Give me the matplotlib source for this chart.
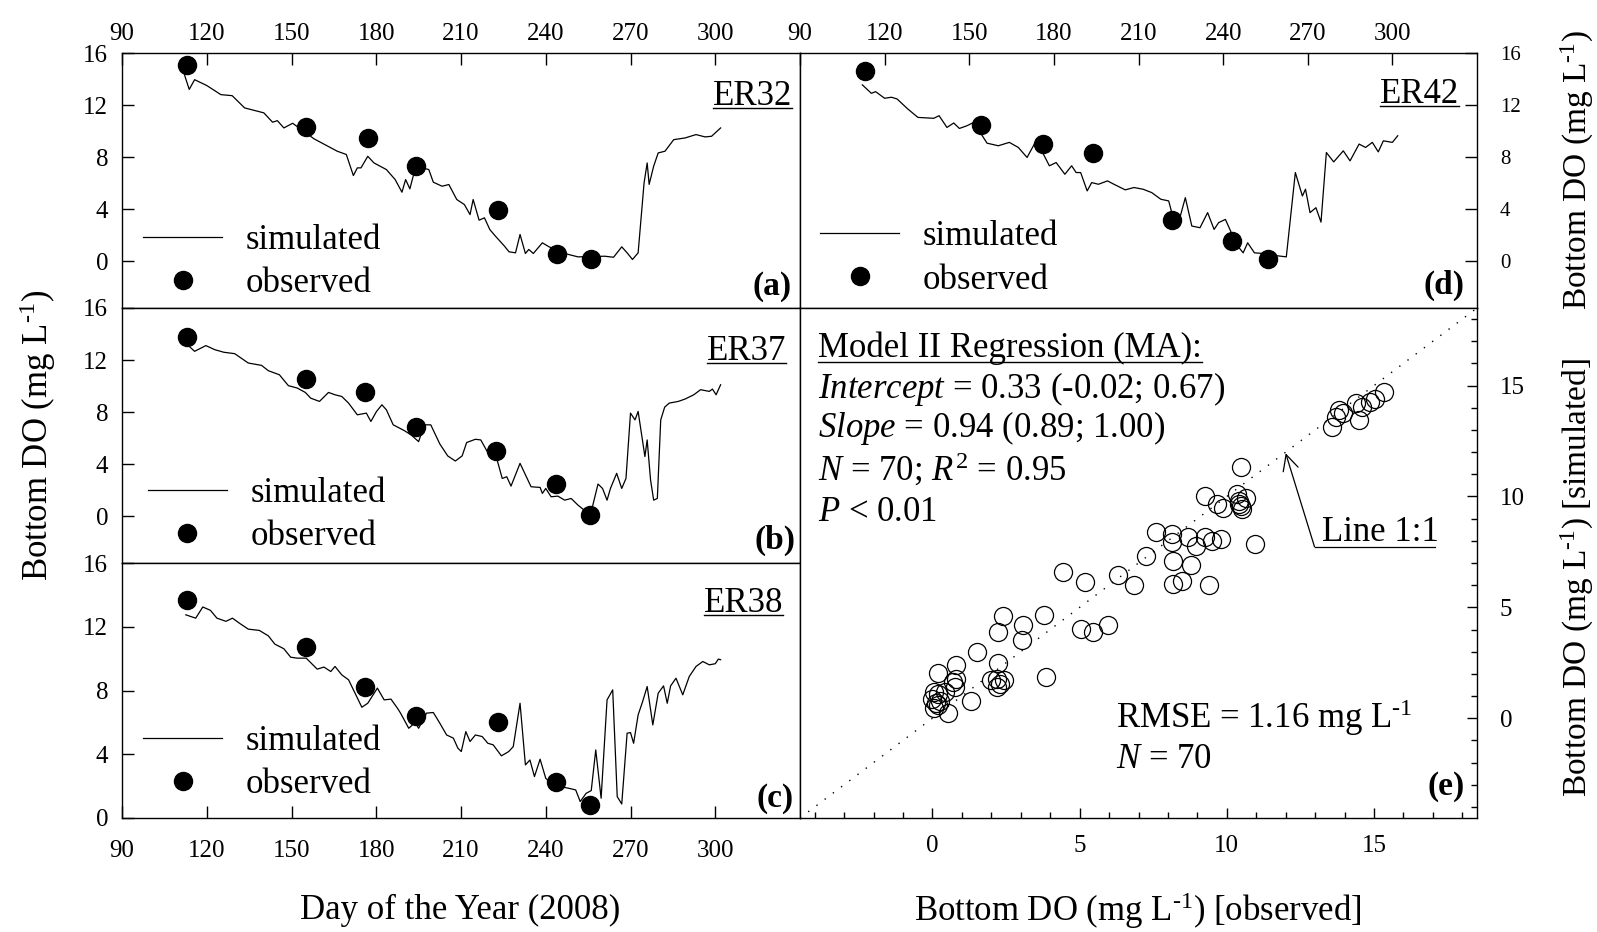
import numpy as np
import matplotlib
matplotlib.use("Agg")
from matplotlib import pyplot as plt
from matplotlib.lines import Line2D

plt.rcParams['font.family'] = ['Liberation Serif', 'DejaVu Serif']
plt.rcParams['mathtext.fontset'] = 'custom'
plt.rcParams['mathtext.rm'] = 'Liberation Serif'
plt.rcParams['mathtext.it'] = 'Liberation Serif:italic'
plt.rcParams['mathtext.bf'] = 'Liberation Serif:bold'
plt.rcParams['axes.linewidth'] = 1.0

# ---- data ----
day_ticks = [90, 120, 150, 180, 210, 240, 270, 300]
do_ticks = [0, 4, 8, 12, 16]
scatter_ticks = [0, 5, 10, 15]

# ER32 (a)
er32_sim_day = [112, 113.8, 115.7, 120, 125, 129, 133.4, 140.2, 143.3, 145, 147.3, 150.4, 158, 166.2,
                169.4, 171.9, 173.3, 174.6, 177, 179.2, 183.6, 186.7, 189.1, 190.4, 191.9, 194, 198.6,
                200.2, 203.3, 205.7, 208.5, 211.2, 213.2, 214.3, 216.4, 218.3, 220.2, 222.2, 225.4, 227,
                229.3, 230.9, 232.8, 234, 235.6, 238.8, 241.2, 246.7, 251.4, 260.9, 264, 266.9, 268.8,
                270.7, 272.7, 274.8, 275.9, 276.6, 278.2, 279.8, 282.2, 285.3, 289.3, 293.2, 296.4,
                298.7, 301.9]
er32_sim_do = [14.4, 13.2, 13.95, 13.5, 12.8, 12.72, 11.78, 11.4, 10.68, 10.8, 10.24, 10.6, 9.4, 8.45,
               8.2, 6.58, 7.17, 7.17, 8.06, 7.55, 7.04, 6.27, 5.3, 6.27, 5.56, 7.3, 7.04, 6.07, 5.76,
               5.89, 4.74, 4.35, 3.58, 4.74, 3.15, 3.33, 2.43, 1.92, 1.15, 0.72, 0.64, 2.05, 0.59, 0.9,
               0.59, 1.41, 1.1, 0.59, 0.33, 0.38, 0.3, 1.1, 0.64, 0.13, 0.64, 6.0, 7.55, 5.9, 7.3, 8.32,
               8.45, 9.34, 9.47, 9.73, 9.55, 9.6, 10.24]
er32_obs_day = [113, 155, 177, 194, 223, 244, 256]
er32_obs_do = [15.05, 10.3, 9.5, 7.3, 3.9, 0.55, 0.15]

# ER37 (b)
er37_sim_day = [113.1, 115.7, 119.7, 122.8, 126, 129.9, 134.7, 139.4, 141.8, 145.7, 148.9, 152, 154.9,
                156.8, 159.9, 163.1, 165.4, 167.8, 170.2, 173.3, 176.5, 178.1, 180.1, 182, 183.6, 186,
                189.9, 192.3, 195, 197, 199.3, 202.5, 205.3, 208, 210.4, 212, 215.1, 217, 219.5, 222.2,
                224.6, 226.2, 227.7, 230.9, 234.8, 238, 238.8, 240, 241.9, 244.3, 246.7, 249, 251.4,
                255.8, 258.5, 260.1, 261.7, 262.9, 265.1, 266.9, 268.4, 270, 271.6, 272.7, 275.1, 275.9,
                277.1, 278.2, 279.5, 280.7, 282.1, 283.7, 286.9, 289.3, 292.4, 294.8, 297.9, 299, 300.3,
                301.9]
er37_sim_do = [13.19, 12.67, 13.11, 12.8, 12.6, 12.49, 11.77, 11.59, 11.18, 10.87, 10.03, 9.85, 9.51,
               9.07, 8.82, 9.51, 9.33, 9.2, 8.69, 7.79, 7.92, 7.28, 8.05, 8.56, 8.17, 7.02, 6.58, 6.25,
               5.73, 7.02, 7.02, 5.55, 4.63, 4.24, 4.63, 5.66, 5.91, 5.86, 4.88, 4.78, 2.9, 3.03, 2.31,
               4.06, 2.26, 2.21, 1.75, 2.13, 1.49, 1.54, 1.23, 1.36, 0.85, 0.08, 2.47, 2.13, 1.23, 2.13,
               3.29, 2.13, 2.9, 7.92, 7.4, 8.05, 4.58, 5.86, 2.78, 1.23, 1.36, 7.4, 8.38, 8.69, 8.82,
               9.0, 9.33, 9.72, 9.59, 9.77, 9.33, 10.1]
er37_obs_day = [113, 155, 176, 194, 222.5, 243.7, 255.8]
er37_obs_do = [13.78, 10.54, 9.51, 6.89, 5.01, 2.44, 0.08]

# ER38 (c)
er38_sim_day = [112.6, 114.2, 116.1, 118.6, 121.3, 123.6, 126.8, 129.1, 131.5, 134.7, 138.6, 141.8,
                144.1, 147.3, 149.7, 152, 155.2, 159.1, 161.5, 163.9, 165.4, 167.8, 170.2, 172.5, 174.9,
                177, 178.9, 180.4, 182.8, 185.2, 187.5, 188.6, 191.5, 193.8, 195, 197.8, 200.2, 202.5,
                204.9, 207.3, 208.9, 210.1, 211.7, 213.2, 215.1, 217.5, 219.5, 221.4, 224.3, 226.9,
                228.5, 230.9, 232.8, 234.4, 236, 238, 240, 241.9, 245.1, 248.3, 250.6, 252.2, 254.3,
                256.1, 257.7, 259.6, 261.7, 263.7, 265.3, 266.9, 268.8, 270, 271.1, 272.7, 274.3, 275.9,
                277.9, 279.8, 281.7, 283, 284.2, 286.1, 288.5, 290.8, 293.2, 295.6, 297.9, 300, 301.1,
                301.9]
er38_sim_do = [12.75, 12.65, 12.54, 13.24, 13.03, 12.54, 12.34, 12.54, 12.23, 11.85, 11.77, 11.43,
               10.91, 10.62, 10.09, 10.03, 10.03, 9.34, 9.47, 9.19, 9.51, 8.98, 8.67, 7.83, 6.95, 7.2,
               7.73, 8.15, 7.41, 7.46, 6.89, 6.58, 5.63, 5.99, 5.63, 6.58, 6.62, 5.95, 5.21, 5.01, 4.38,
               4.17, 5.42, 4.8, 5.21, 5.11, 4.69, 4.59, 3.9, 4.17, 4.48, 7.2, 3.33, 3.64, 2.6, 3.69,
               2.49, 2.18, 1.97, 1.86, 1.76, 1.03, 1.55, 1.72, 4.27, 1.24, 7.41, 8.04, 1.34, 0.88, 5.32,
               5.36, 4.69, 6.47, 7.31, 8.25, 5.84, 7.83, 8.29, 7.2, 8.29, 8.77, 7.73, 8.88, 9.51, 9.82,
               9.61, 9.68, 9.97, 9.93]
er38_obs_day = [113, 155, 176, 194, 223, 243.7, 255.8]
er38_obs_do = [13.65, 10.7, 8.25, 6.37, 6.05, 2.28, 0.82]

# ER42 (d)
er42_sim_day = [112.1, 115.3, 116.8, 120, 122.4, 124.4, 128.2, 131.8, 137.4, 139.3, 142.1, 144.5,
                146.5, 149.2, 151.6, 156.3, 160.3, 164.2, 167.4, 170.5, 173.4, 176, 178.4, 180.8, 183.9,
                186.3, 187.9, 189.5, 191.8, 193.4, 195.8, 199, 201.3, 205.3, 208.4, 211.6, 214.7, 217.9,
                220.7, 221.8, 224.5, 226.6, 228.9, 231.8, 234.5, 236.8, 238.4, 240.8, 242.4, 244.7,
                247.1, 248.7, 251.1, 254.2, 258.2, 262.4, 265.6, 268.1, 269.2, 270.8, 272.9, 274.7,
                276.6, 279.2, 282.6, 285, 288.2, 290.5, 292.9, 295, 296.8, 300, 301.9]
er42_sim_do = [13.55, 12.9, 13.03, 12.52, 12.6, 12.47, 11.7, 11.05, 10.98, 11.18, 10.28, 10.62, 10.2,
               10.41, 10.67, 9.07, 8.87, 9.13, 8.74, 7.97, 9.13, 8.35, 7.33, 7.58, 6.68, 7.33, 6.81,
               6.81, 5.4, 6.04, 5.91, 6.17, 5.91, 5.48, 5.66, 5.53, 5.27, 4.76, 4.63, 3.73, 3.21, 4.88,
               2.7, 2.57, 3.73, 2.44, 2.96, 3.21, 2.44, 1.29, 0.64, 1.41, 0.64, 0.59, 0.44, 0.33, 6.81,
               5.01, 5.53, 3.73, 4.11, 3.0, 8.35, 7.63, 8.48, 7.71, 9.0, 8.74, 9.13, 8.4, 9.25, 9.13,
               9.64]
er42_obs_day = [113, 154, 176, 194, 222, 243, 256]
er42_obs_do = [14.58, 10.46, 9.0, 8.28, 3.14, 1.54, 0.13]

# (e) observed vs simulated, N = 70
obs_e = [13.56, 13.7, 13.94, 14.39, 14.5, 14.85, 15.03, 15.33, 13.8, 14.6,
         10.48, 10.33, 10.64, 10.41, 10.48, 10.5, 9.27, 9.65, 9.88, 10.97, 10.4,
         7.6, 8.14, 8.14, 8.67, 8.94, 9.27, 9.5, 9.8, 7.27, 8.18, 8.79, 8.18, 8.48, 9.39,
         4.45, 5.18, 6.32, 6.85, 5.06, 5.45, 5.98, 3.79, 2.38, 3.06, 2.23, 3.03, 1.52, 3.85,
         2.23, 2.18, 2.0, 2.42, 2.18, 2.3,
         0.79, 0.18, 0.79, 0.71, 0.76, 0.06, 0.18, 0.0, 0.11, 0.26, 0.06, 0.52, 1.32, 0.18, 0.41]
sim_e = [13.14, 13.6, 13.76, 14.23, 13.45, 14.26, 14.39, 14.7, 13.9, 14.05,
         11.35, 10.1, 9.95, 9.64, 9.56, 9.44, 10.03, 9.64, 9.49, 7.85, 9.8,
         8.4, 8.32, 7.93, 8.16, 7.78, 8.16, 8.01, 8.09, 7.31, 7.08, 6.89, 6.07, 6.17, 5.99,
         6.61, 6.14, 6.45, 6.02, 4.04, 3.89, 4.2, 4.67, 4.59, 4.2, 3.89, 3.53, 3.0, 1.87,
         2.49, 1.79, 1.71, 1.71, 1.4, 1.55,
         2.41, 2.02, 1.79, 1.63, 1.4, 1.2, 1.09, 0.86, 0.7, 0.78, 0.47, 0.23, 0.78, 0.58, 1.17]

unit = r'mg L$^{\text{-}1}$'
stats_lines = ['Model II Regression (MA):',
               r'$\mathit{Intercept}$ = 0.33 (-0.02; 0.67)',
               r'$\mathit{Slope}$ = 0.94 (0.89; 1.00)',
               r'$\mathit{N}$ = 70; $\mathit{R}^2$ = 0.95',
               r'$\mathit{P}$ < 0.01']

# ---- layout ----
W, H = 1597., 932.
fig = plt.figure(figsize=(W / 100, H / 100), dpi=100)


def box(x0, y0, x1, y1):
    # pixel edges measured from top-left of the picture
    return [x0 / W, 1 - y1 / H, (x1 - x0) / W, (y1 - y0) / H]


ax_a = fig.add_axes(box(122, 53, 800, 308))
ax_b = fig.add_axes(box(122, 308, 800, 563))
ax_c = fig.add_axes(box(122, 563, 800, 818))
ax_d = fig.add_axes(box(800, 53, 1477, 308))
ax_e = fig.add_axes(box(800, 308, 1477, 818))

underlined = []


def station_panel(ax, sim_day, sim_do, obs_day, obs_do, name, letter, ylim,
                  leg_xy, name_xy, letter_xy):
    ax.plot(sim_day, sim_do, color='black', lw=0.9, label='simulated')
    ax.plot(obs_day, obs_do, 'o', color='black', ms=13, label='observed', zorder=3)
    ax.set_xlim(90, 330)
    ax.set_ylim(*ylim)
    ax.set_xticks(day_ticks)
    ax.set_yticks(do_ticks)
    ax.legend(loc='center left', bbox_to_anchor=leg_xy, frameon=False, fontsize=25,
              handlelength=2.28, handletextpad=0.67, labelspacing=0.29,
              borderpad=0, borderaxespad=0)
    t = ax.text(name_xy[0], name_xy[1], name, transform=ax.transAxes,
                ha='right', va='baseline', fontsize=25)
    underlined.append((t, 3))
    ax.text(letter_xy[0], letter_xy[1], letter, transform=ax.transAxes,
            ha='right', va='center', fontsize=24, fontweight='bold')


station_panel(ax_a, er32_sim_day, er32_sim_do, er32_obs_day, er32_obs_do, 'ER32', '(a)',
              (-3.6, 16), (0.031, 0.179), (0.988, 0.796), (0.988, 0.085))
station_panel(ax_b, er37_sim_day, er37_sim_do, er37_obs_day, er37_obs_do, 'ER37', '(b)',
              (-3.6, 16), (0.038, 0.188), (0.980, 0.796), (0.993, 0.09))
station_panel(ax_c, er38_sim_day, er38_sim_do, er38_obs_day, er38_obs_do, 'ER38', '(c)',
              (0, 16), (0.031, 0.215), (0.975, 0.809), (0.99, 0.078))
station_panel(ax_d, er42_sim_day, er42_sim_do, er42_obs_day, er42_obs_do, 'ER42', '(d)',
              (-3.6, 16), (0.03, 0.194), (0.973, 0.805), (0.982, 0.09))

# ticks for the time-series panels
for ax in (ax_a, ax_b, ax_c):
    ax.tick_params(axis='y', direction='in', left=True, right=False, length=8.5, width=1,
                   labelsize=18, pad=10)
ax_a.tick_params(axis='x', direction='in', bottom=False, top=True, labelbottom=False,
                 labeltop=True, length=8.5, width=1, labelsize=18, pad=5.5)
ax_b.tick_params(axis='x', bottom=False, top=False, labelbottom=False)
ax_c.tick_params(axis='x', direction='in', bottom=True, top=False, length=8.5, width=1,
                 labelsize=18, pad=16)
ax_d.tick_params(axis='x', direction='in', bottom=False, top=True, labelbottom=False,
                 labeltop=True, length=8.5, width=1, labelsize=18, pad=5.5)
ax_d.tick_params(axis='y', direction='in', left=False, right=True, labelleft=False,
                 labelright=True, length=8.5, width=1, labelsize=15, pad=16.5)

# ---- (e) scatter ----
ax_e.plot(obs_e, sim_e, 'o', mfc='none', mec='black', mew=0.9, ms=13)
ax_e.axline((0, 0), slope=1, color='black', lw=1.0, linestyle=(0, (1, 6.4)))
ax_e.set_xlim(-4.5, 18.5)
ax_e.set_ylim(-4.5, 18.5)
ax_e.set_xticks(scatter_ticks)
ax_e.set_yticks(scatter_ticks)
ax_e.set_xticks(np.arange(-4, 19), minor=True)
ax_e.set_yticks(np.arange(-4, 19), minor=True)
ax_e.tick_params(axis='x', which='both', direction='in', bottom=True, top=False, width=1,
                 labelsize=18, pad=12)
ax_e.tick_params(axis='y', which='both', direction='in', left=False, right=True,
                 labelleft=False, labelright=True, width=1, labelsize=18, pad=16.5)
ax_e.tick_params(which='major', length=7)
ax_e.tick_params(which='minor', length=4)

stats_y = [0.904, 0.824, 0.747, 0.661, 0.582]
for i, (line, yy) in enumerate(zip(stats_lines, stats_y)):
    t = ax_e.text(0.027, yy, line, transform=ax_e.transAxes, ha='left', va='baseline',
                  fontsize=25)
    if i == 0:
        underlined.append((t, 5))

ax_e.text(0.467, 0.176, 'RMSE = 1.16 ' + unit, transform=ax_e.transAxes,
          ha='left', va='baseline', fontsize=25)
ax_e.text(0.467, 0.098, r'$\mathit{N}$ = 70', transform=ax_e.transAxes,
          ha='left', va='baseline', fontsize=25)
ax_e.text(0.982, 0.061, '(e)', transform=ax_e.transAxes, ha='right', va='center',
          fontsize=24, fontweight='bold')

# Line 1:1 call-out
ax_e.annotate('', xy=(12.0, 11.95), xytext=(12.98, 7.73),
              arrowprops=dict(arrowstyle='->', lw=0.9, color='black', mutation_scale=28,
                              shrinkA=0, shrinkB=0))
ax_e.plot([12.98, 17.06], [7.73, 7.73], color='black', lw=0.9)
ax_e.text(13.23, 8.0, 'Line 1:1', ha='left', va='baseline', fontsize=25)

# ---- axis titles ----
fig.text(38 / W, 1 - 435 / H, 'Bottom DO (' + unit + ')', rotation=90,
         ha='center', va='center', fontsize=25)
fig.text(1577 / W, 1 - 170 / H, 'Bottom DO (' + unit + ')', rotation=90,
         ha='center', va='center', fontsize=24)
fig.text(1577 / W, 1 - 577 / H, 'Bottom DO (' + unit + ') [simulated]', rotation=90,
         ha='center', va='center', fontsize=24)
fig.text(460 / W, 1 - 910 / H, 'Day of the Year (2008)', ha='center', va='center',
         fontsize=25)
fig.text(1138 / W, 1 - 911 / H, 'Bottom DO (' + unit + ') [observed]', ha='center',
         va='center', fontsize=25)

# underline the station names and the regression heading
fig.canvas.draw()
renderer = fig.canvas.get_renderer()
fw, fh = fig.bbox.width, fig.bbox.height
for t, gap in underlined:
    bb = t.get_window_extent(renderer)
    bx, by = t.get_transform().transform(t.get_position())
    yline = (by - gap) / fh
    fig.add_artist(Line2D([bb.x0 / fw, bb.x1 / fw], [yline, yline],
                          transform=fig.transFigure, color='black', lw=1.0))

fig.savefig('out.png', dpi=100)
